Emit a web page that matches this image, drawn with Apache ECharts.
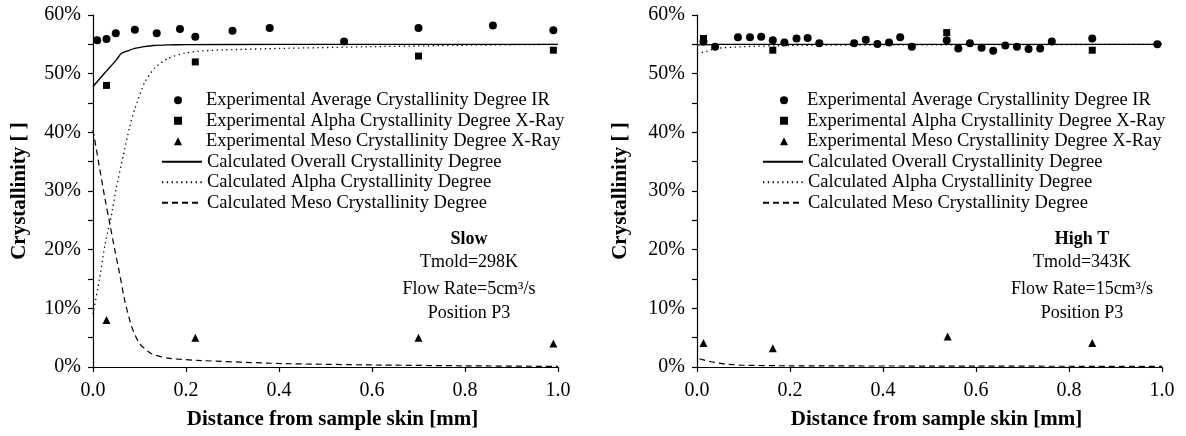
<!DOCTYPE html>
<html>
<head>
<meta charset="utf-8">
<script src="https://cdn.jsdelivr.net/npm/echarts@6/dist/echarts.min.js"></script>
<style>html,body{margin:0;padding:0;background:#fff;}#c{width:1186px;height:436px;}</style>
</head>
<body>
<div id="c"></div>
<script>
// ---------- data ----------
const seriesNames = [
  'Experimental Average Crystallinity Degree IR',
  'Experimental Alpha Crystallinity Degree X-Ray',
  'Experimental Meso Crystallinity Degree X-Ray',
  'Calculated Overall Crystallinity Degree',
  'Calculated Alpha Crystallinity Degree',
  'Calculated Meso Crystallinity Degree'
];
const yTickLabels = ['0%', '10%', '20%', '30%', '40%', '50%', '60%'];
const xTickLabels = ['0.0', '0.2', '0.4', '0.6', '0.8', '1.0'];

// Left panel (Slow)
const leftIR = [[0.009,55.7],[0.029,55.9],[0.049,56.9],[0.09,57.5],[0.137,56.9],[0.187,57.6],[0.22,56.3],[0.30,57.3],[0.38,57.8],[0.54,55.5],[0.70,57.8],[0.86,58.2],[0.99,57.4]];
const leftAlphaX = [[0.029,48],[0.22,52],[0.70,53],[0.99,54]];
const leftMesoX = [[0.029,8],[0.22,5],[0.70,5],[0.99,4]];
const leftOverallCalc = [[0,47.8],[0.025,50.1],[0.05,52.3],[0.06,53.4],[0.075,53.9],[0.09,54.3],[0.11,54.6],[0.13,54.8],[0.16,54.9],[0.2,54.95],[0.4,55],[0.6,55],[0.8,55],[1.0,55]];
const leftAlphaCalc = [[0,9],[0.014,15],[0.025,20.5],[0.039,25.6],[0.05,30.5],[0.065,36],[0.079,41],[0.09,44],[0.111,48.5],[0.133,51],[0.161,52.6],[0.197,53.5],[0.236,53.9],[0.3,54.1],[0.4,54.3],[0.6,54.6],[0.8,54.85],[1.0,55]];
const leftMesoCalc = [[0,40.4],[0.025,29],[0.036,24.5],[0.047,19.9],[0.057,16],[0.068,11.4],[0.083,6.9],[0.1,4.0],[0.125,2.3],[0.161,1.5],[0.233,1.1],[0.4,0.6],[0.6,0.35],[0.8,0.2],[1.0,0.1]];

// Right panel (High T)
const rightIR = [[0.014,55.5],[0.039,54.6],[0.088,56.2],[0.114,56.2],[0.138,56.3],[0.163,55.7],[0.188,55.3],[0.214,56.0],[0.238,56.1],[0.263,55.2],[0.338,55.2],[0.363,55.8],[0.388,55.05],[0.413,55.3],[0.437,56.2],[0.462,54.6],[0.537,55.7],[0.562,54.3],[0.587,55.2],[0.612,54.4],[0.637,53.9],[0.663,54.8],[0.688,54.6],[0.713,54.2],[0.738,54.3],[0.763,55.5],[0.850,56.0],[0.990,55.0]];
const rightAlphaX = [[0.014,56],[0.163,54],[0.537,57],[0.850,54]];
const rightMesoX = [[0.014,4.1],[0.163,3.2],[0.539,5.2],[0.850,4.1]];
const rightOverallCalc = [[0,54.9],[0.05,55],[1.0,55]];
const rightAlphaCalc = [[0,53.4],[0.02,53.8],[0.04,54.3],[0.1,54.6],[0.2,54.8],[0.4,54.9],[1.0,55]];
const rightMesoCalc = [[0.005,1.4],[0.03,0.9],[0.06,0.5],[0.1,0.3],[0.2,0.2],[0.6,0.15],[1.0,0.1]];

const annotLeft = ['Slow', 'Tmold=298K', 'Flow Rate=5cm³/s', 'Position P3'];
const annotRight = ['High T', 'Tmold=343K', 'Flow Rate=15cm³/s', 'Position P3'];

// ---------- chart ----------
const FONT = '"Liberation Serif", "Times New Roman", serif';
const black = '#000';
const ROW = 20.5;
const LEG_TOP = 90;

function xAxis(gi, shiftPad) {
  return {
    type: 'value', gridIndex: gi, min: 0, max: 1, interval: 0.2,
    name: 'Distance from sample skin [mm]', nameLocation: 'middle', nameGap: 42,
    nameTextStyle: { fontFamily: FONT, fontSize: 21, fontWeight: 'bold', color: black, padding: [0, 0, 0, shiftPad] },
    axisLine: { show: true, onZero: false, lineStyle: { color: black, width: 1.2 } },
    axisTick: { show: true, inside: false, length: 5, lineStyle: { color: black, width: 1.2 } },
    axisLabel: { fontFamily: FONT, fontSize: 20, color: black, margin: 14,
      formatter: v => xTickLabels[Math.round(v / 0.2)] },
    splitLine: { show: false }
  };
}
function yAxis(gi, gap) {
  return {
    type: 'value', gridIndex: gi, min: 0, max: 60, interval: 10,
    name: 'Crystallinity [ ]', nameLocation: 'middle', nameGap: gap,
    nameTextStyle: { fontFamily: FONT, fontSize: 21, fontWeight: 'bold', color: black },
    axisLine: { show: true, lineStyle: { color: black, width: 1.2 } },
    axisTick: { show: true, inside: false, length: 5, lineStyle: { color: black, width: 1.2 } },
    minorTick: { show: true, splitNumber: 2, length: 5, lineStyle: { color: black, width: 1.2 } },
    axisLabel: { fontFamily: FONT, fontSize: 20, color: black, margin: 12,
      formatter: v => yTickLabels[Math.round(v / 10)] },
    splitLine: { show: false }, minorSplitLine: { show: false }
  };
}
function scatter(name, gi, data, symbol, size) {
  return { type: 'scatter', name, xAxisIndex: gi, yAxisIndex: gi, data, symbol, symbolSize: size,
    symbolKeepAspect: true, itemStyle: { color: black, opacity: 1 }, z: 5 };
}
function line(name, gi, data, type, width) {
  return { type: 'line', name, xAxisIndex: gi, yAxisIndex: gi, data, symbol: 'none', smooth: 0.2,
    lineStyle: { color: black, width, type }, itemStyle: { color: black }, z: 3 };
}
function markerLegend(left, textPad) {
  return {
    orient: 'vertical', left, top: LEG_TOP, padding: 0, itemWidth: 8, itemHeight: 8, itemGap: 0,
    selectedMode: false, data: seriesNames.slice(0, 3),
    textStyle: { fontFamily: FONT, fontSize: 18.5, color: black, lineHeight: ROW, padding: [0, 0, 0, textPad] }
  };
}
function lineLegend(left) {
  return {
    orient: 'vertical', left, top: LEG_TOP + 3 * ROW, padding: 0, itemWidth: 40, itemHeight: 7, itemGap: 0,
    selectedMode: false, data: seriesNames.slice(3),
    itemStyle: { color: 'rgba(0,0,0,0)', borderColor: 'rgba(0,0,0,0)', borderWidth: 0 },
    textStyle: { fontFamily: FONT, fontSize: 18.5, color: black, lineHeight: ROW }
  };
}
function annot(lines, cx) {
  const ys = [239, 262, 289, 313];
  return lines.map((t, i) => ({
    type: 'text', x: cx, y: ys[i], z: 10,
    style: { text: t, fill: black, fontFamily: FONT, fontSize: 18,
      fontWeight: i === 0 ? 'bold' : 'normal', textAlign: 'center', textVerticalAlign: 'middle' }
  }));
}

const chart = echarts.init(document.getElementById('c'), null, { renderer: 'canvas' });
chart.setOption({
  backgroundColor: '#fff',
  animation: false,
  grid: [
    { left: 93, top: 15, width: 465, height: 352, outerBoundsMode: 'none', containLabel: false },
    { left: 697, top: 15, width: 465, height: 352, outerBoundsMode: 'none', containLabel: false }
  ],
  xAxis: [xAxis(0, 14), xAxis(1, 14)],
  yAxis: [yAxis(0, 63), yAxis(1, 66)],
  legend: [markerLegend(174, 19), lineLegend(161), markerLegend(780, 14), lineLegend(762)],
  series: [
    scatter(seriesNames[0], 0, leftIR, 'circle', 8),
    scatter(seriesNames[1], 0, leftAlphaX, 'rect', 7),
    scatter(seriesNames[2], 0, leftMesoX, 'triangle', 8),
    line(seriesNames[3], 0, leftOverallCalc, 'solid', 1.4),
    line(seriesNames[4], 0, leftAlphaCalc, [1.3, 3.5], 1.3),
    line(seriesNames[5], 0, leftMesoCalc, [6, 4], 1.2),
    scatter(seriesNames[0], 1, rightIR, 'circle', 8),
    scatter(seriesNames[1], 1, rightAlphaX, 'rect', 7),
    scatter(seriesNames[2], 1, rightMesoX, 'triangle', 8),
    line(seriesNames[3], 1, rightOverallCalc, 'solid', 1.4),
    line(seriesNames[4], 1, rightAlphaCalc, [1.3, 3.5], 1.3),
    line(seriesNames[5], 1, rightMesoCalc, [6, 4], 1.2)
  ],
  graphic: annot(annotLeft, 469).concat(annot(annotRight, 1082))
});
</script>
</body>
</html>
